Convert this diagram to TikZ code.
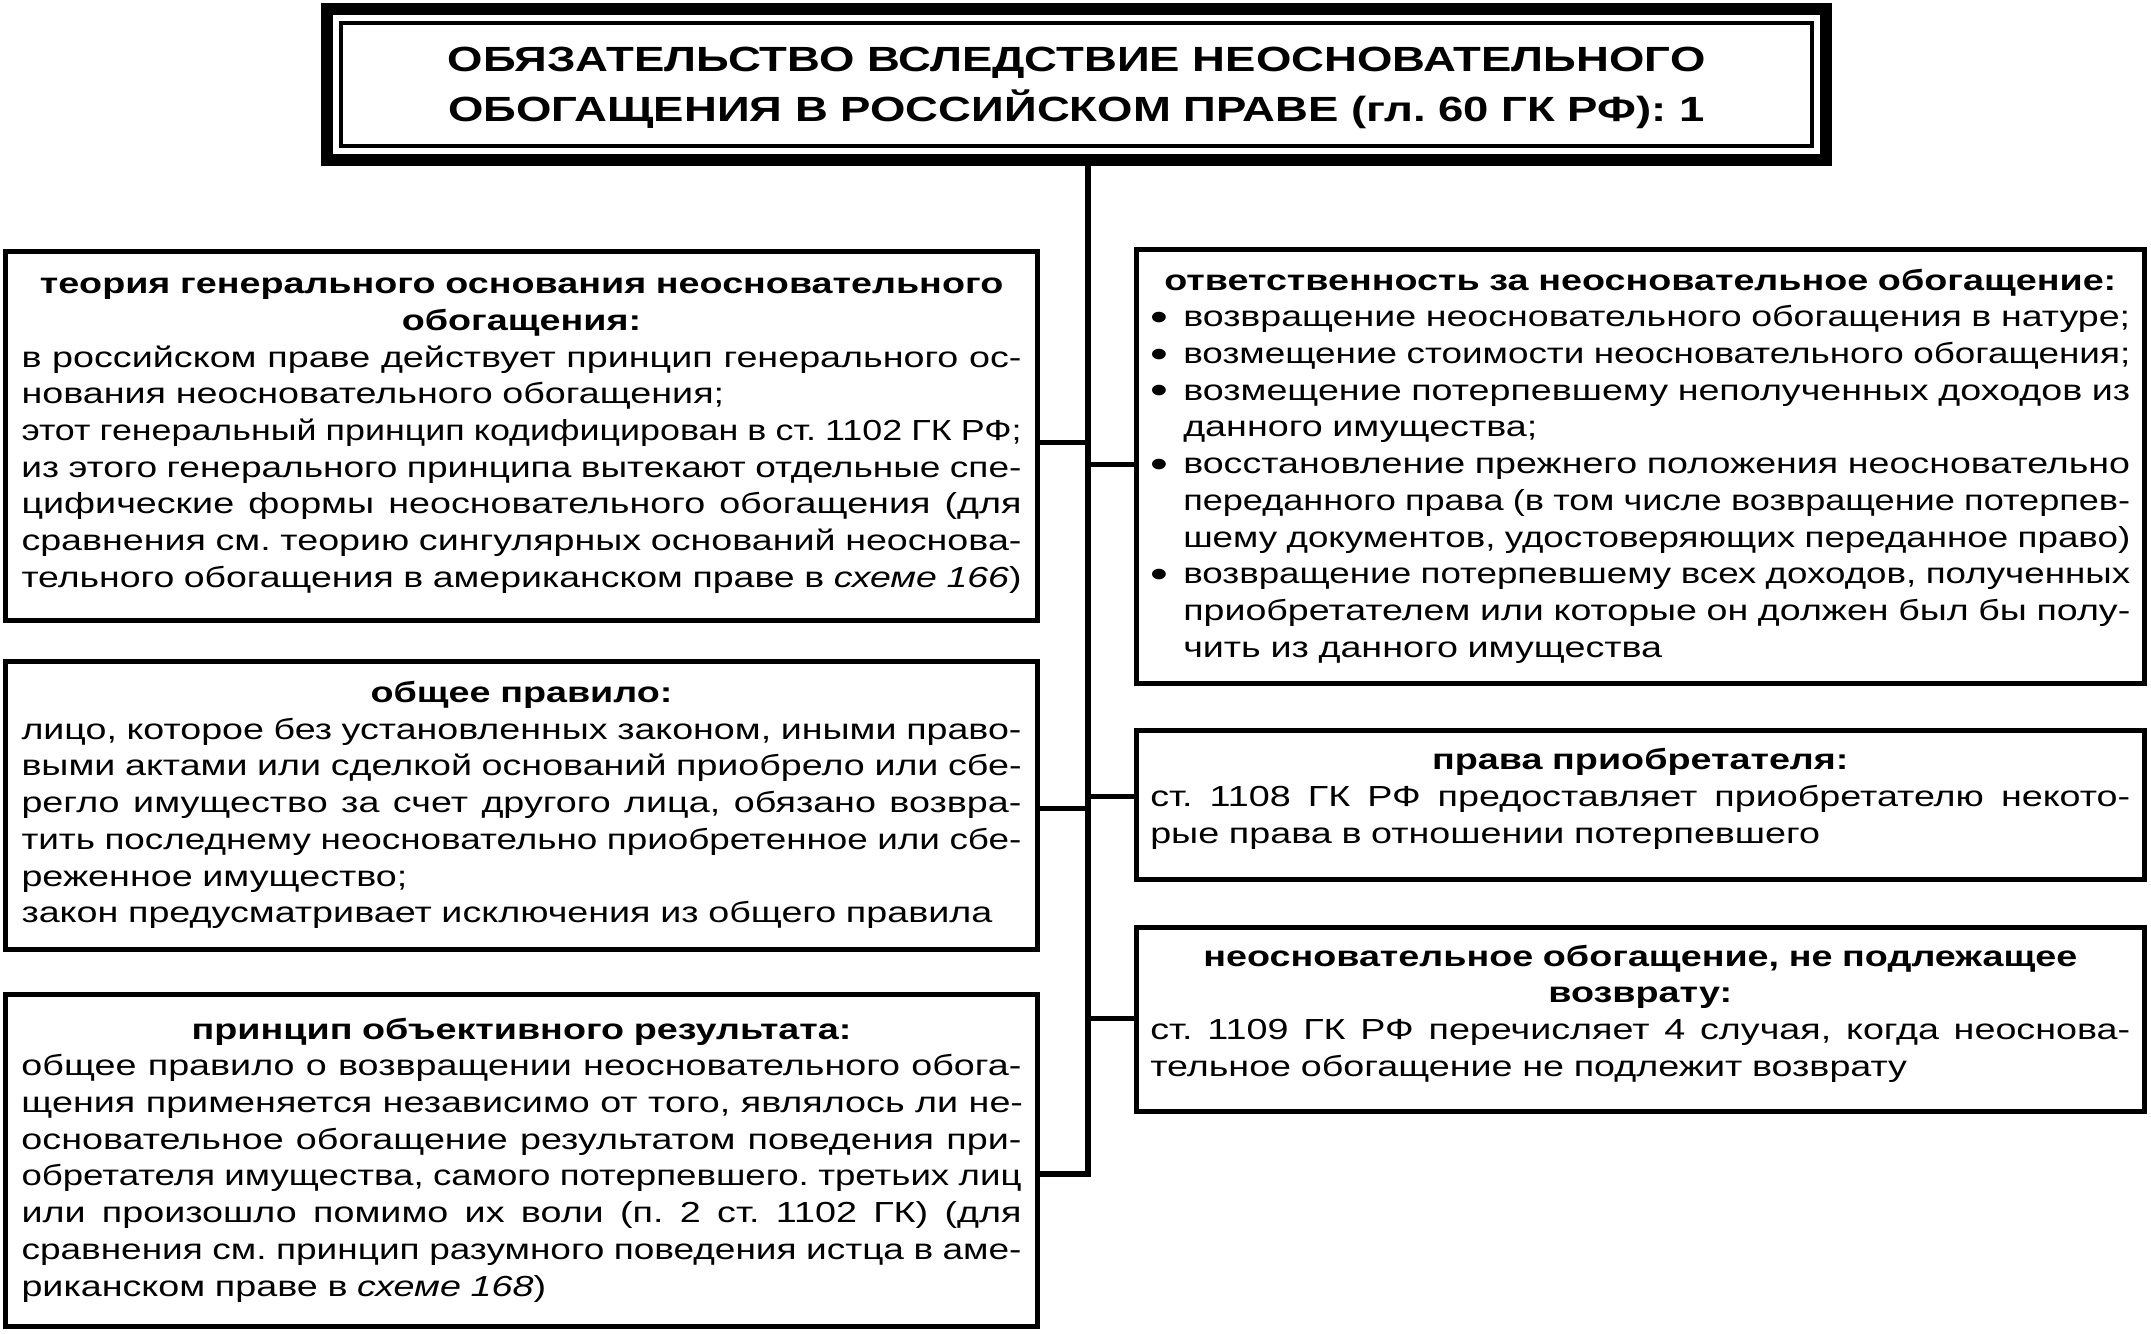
\documentclass[tikz,border=0pt]{standalone}
\usepackage{fontspec}
\setmainfont{Liberation Sans}[FakeStretch=1.30]
\usepackage{graphicx}
\usetikzlibrary{fit}
\frenchspacing
\newsavebox\lnbox
\newlength\hgind
\setlength\hgind{16.5pt}
\newcommand\jfill[2]{\leavevmode\sbox\lnbox{#2}\ifdim\wd\lnbox>#1\relax\resizebox{#1}{\height}{\usebox\lnbox}\else\hbox to #1{\spaceskip=\fontdimen2\font plus 1fil\relax #2}\fi}
\newcommand\jl[1]{\jfill{\linewidth}{#1}\\}
\newcommand\jlend[1]{\jfill{\linewidth}{#1}}
\newcommand\hd[1]{\makebox[\linewidth][c]{\bfseries #1}\\}
\newcommand\bulmark{\makebox[\hgind][l]{\raisebox{-0.12em}{\scalebox{1.35}{\textbullet}}}}
\newcommand\bul[1]{\bulmark\jfill{\dimexpr\linewidth-\hgind\relax}{#1}\\}
\newcommand\cnt[1]{\hspace*{\hgind}\jfill{\dimexpr\linewidth-\hgind\relax}{#1}\\}
\newcommand\cntend[1]{\hspace*{\hgind}#1}
\newcommand\lift{\rule[-8.5pt]{0pt}{0pt}}
\tikzset{
  boxx/.style={draw, line width=2.5pt, inner sep=0pt, outer sep=0pt,
    font=\fontsize{14.5}{18.35}\selectfont},
  lbox/.style={boxx, minimum width=516pt, text width=500pt},
  rbox/.style={boxx, minimum width=503.75pt, text width=490pt},
  titlebox/.style={draw, line width=2pt, inner sep=0pt, outer sep=0pt,
    minimum width=735.5pt, minimum height=61.5pt},
  titletext/.style={inner sep=0pt, align=center,
    font=\fontsize{17.5}{24.75}\selectfont\bfseries},
  conn/.style={line width=2.5pt},
  trunkline/.style={line width=3pt}
}
\begin{document}
\begin{tikzpicture}[x=0.5pt,y=-0.5pt]
\useasboundingbox (0,0) rectangle (2151,1333);
\node[titlebox] (title) at (1076.5,84) {};
\node[fit=(title), draw, line width=6pt, inner sep=7pt, outer sep=0pt] (titleframe) {};
\node[titletext] (titlet) at (1076.5,88) {ОБЯЗАТЕЛЬСТВО ВСЛЕДСТВИЕ НЕОСНОВАТЕЛЬНОГО\\ОБОГАЩЕНИЯ В РОССИЙСКОМ ПРАВЕ (гл. 60 ГК РФ): 1};

\node[lbox, minimum height=184.25pt] (l1) at (521.5,435.75) {%
\hd{теория генерального основания неосновательного}
\hd{обогащения:}
\jl{в российском праве действует принцип генерального ос-}
нования неосновательного обогащения;\\
\jl{этот генеральный принцип кодифицирован в ст. 1102 ГК РФ;}
\jl{из этого генерального принципа вытекают отдельные спе-}
\jl{цифические формы неосновательного обогащения (для}
\jl{сравнения см. теорию сингулярных оснований неоснова-}
\jlend{тельного обогащения в американском праве в \textit{схеме 166})}};

\node[lbox, minimum height=144pt] (l2) at (521.5,805) {%
\hd{общее правило:}
\jl{лицо, которое без установленных законом, иными право-}
\jl{выми актами или сделкой оснований приобрело или сбе-}
\jl{регло имущество за счет другого лица, обязано возвра-}
\jl{тить последнему неосновательно приобретенное или сбе-}
реженное имущество;\\
закон предусматривает исключения из общего правила};

\node[lbox, minimum height=166pt] (l3) at (521.5,1160) {%
\hd{принцип объективного результата:}
\jl{общее правило о возвращении неосновательного обога-}
\jl{щения применяется независимо от того, являлось ли не-}
\jl{основательное обогащение результатом поведения при-}
\jl{обретателя имущества, самого потерпевшего. третьих лиц}
\jl{или произошло помимо их воли (п. 2 ст. 1102 ГК) (для}
\jl{сравнения см. принцип разумного поведения истца в аме-}
риканском праве в \textit{схеме 168})};

\node[rbox, minimum height=217pt] (r1) at (1640.25,466) {%
\hd{ответственность за неосновательное обогащение:}
\bul{возвращение неосновательного обогащения в натуре;}
\bul{возмещение стоимости неосновательного обогащения;}
\bul{возмещение потерпевшему неполученных доходов из}
\cntend{данного имущества;}\\
\bul{восстановление прежнего положения неосновательно}
\cnt{переданного права (в том числе возвращение потерпев-}
\cnt{шему документов, удостоверяющих переданное право)}
\bul{возвращение потерпевшему всех доходов, полученных}
\cnt{приобретателем или которые он должен был бы полу-}
\cntend{чить из данного имущества}};

\node[rbox, minimum height=74.5pt] (r2) at (1640.25,804.5) {%
\hd{права приобретателя:}
\jl{ст. 1108 ГК РФ предоставляет приобретателю некото-}
рые права в отношении потерпевшего\lift};

\node[rbox, minimum height=92pt] (r3) at (1640.25,1019) {%
\hd{неосновательное обогащение, не подлежащее}
\hd{возврату:}
\jl{ст. 1109 ГК РФ перечисляет 4 случая, когда неоснова-}
тельное обогащение не подлежит возврату\lift};

\coordinate (trunk) at (1087.5,1174);
\coordinate (yl1) at (0,442);
\coordinate (yl2) at (0,808);
\coordinate (yr1) at (0,464);
\coordinate (yr2) at (0,796);
\coordinate (yr3) at (0,1018);
\draw[trunkline] (titleframe.south -| trunk) -- (trunk) -- (trunk -| l3.east);
\draw[conn] (trunk |- yl1) -- (l1.east |- yl1);
\draw[conn] (trunk |- yl2) -- (l2.east |- yl2);
\draw[conn] (trunk |- yr1) -- (r1.west |- yr1);
\draw[conn] (trunk |- yr2) -- (r2.west |- yr2);
\draw[conn] (trunk |- yr3) -- (r3.west |- yr3);
\end{tikzpicture}
\end{document}
